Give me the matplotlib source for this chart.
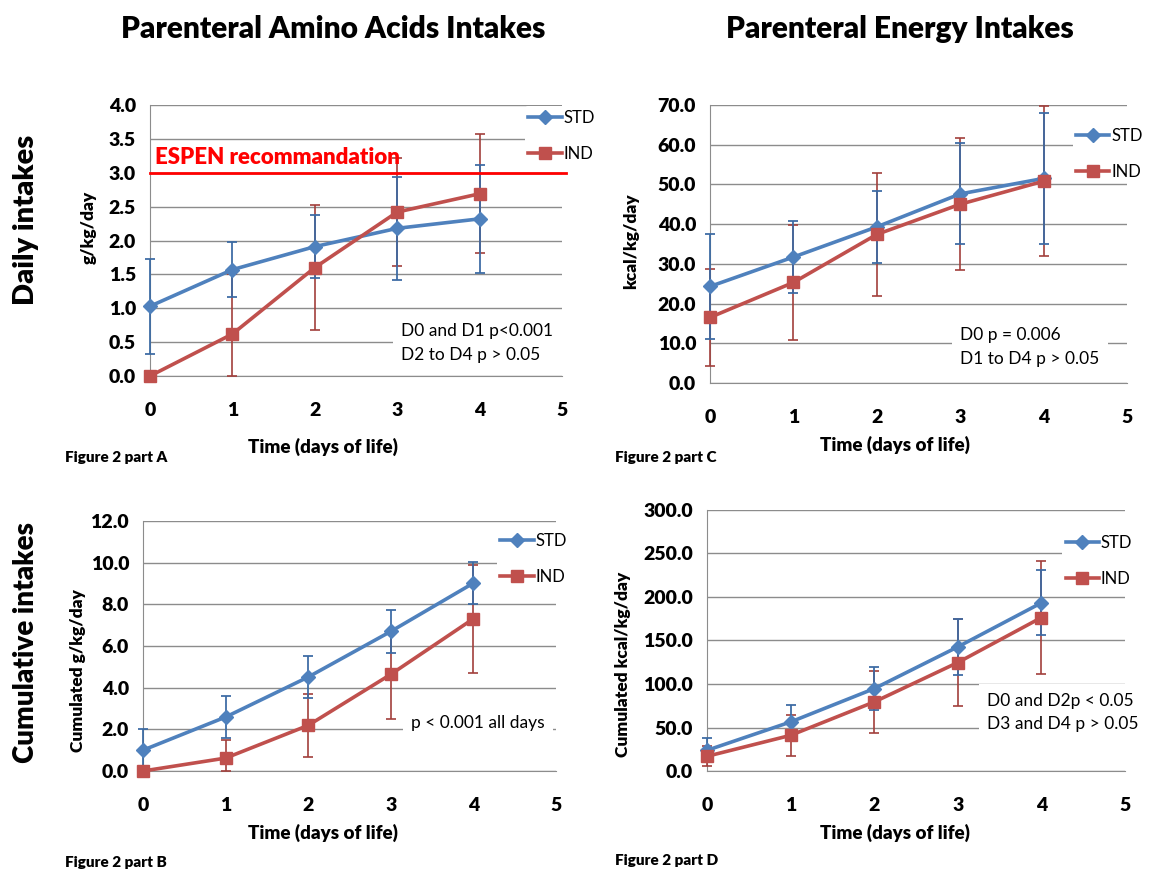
import matplotlib
matplotlib.use("Agg")
import matplotlib.pyplot as plt
import numpy as np

plt.rcParams['font.family'] = ['Lato', 'DejaVu Sans']

days = [0, 1, 2, 3, 4]

# Figure 2 part A - daily amino acids (g/kg/day)
aa_std = [1.03, 1.57, 1.91, 2.18, 2.32]
aa_std_err = [0.70, 0.41, 0.46, 0.76, 0.80]
aa_ind = [0.0, 0.62, 1.60, 2.42, 2.69]
aa_ind_err = [0.0, 0.88, 0.92, 0.80, 0.88]

# Figure 2 part C - daily energy (kcal/kg/day)
en_std = [24.3, 31.7, 39.3, 47.6, 51.5]
en_std_err = [13.2, 9.0, 9.0, 12.7, 16.4]
en_ind = [16.5, 25.3, 37.4, 45.0, 50.8]
en_ind_err = [12.1, 14.4, 15.4, 16.6, 18.9]

# Figure 2 part B - cumulated amino acids
caa_std = [1.0, 2.59, 4.51, 6.70, 9.02]
caa_std_err = [1.0, 1.0, 1.02, 1.04, 1.02]
caa_ind = [0.0, 0.62, 2.19, 4.64, 7.31]
caa_ind_err = [0.0, 0.88, 1.52, 2.13, 2.60]

# Figure 2 part D - cumulated energy
cen_std = [23.8, 56.4, 94.7, 142.7, 193.3]
cen_std_err = [14.0, 20.0, 25.0, 32.0, 37.5]
cen_ind = [16.9, 41.0, 79.4, 124.7, 176.4]
cen_ind_err = [11.5, 23.5, 35.5, 49.5, 64.7]

BLUE = '#4F81BD'
RED = '#C0504D'
BLUE_ERR = '#3B6AA3'
RED_ERR = '#A23E3B'
GRID = '#8C8C8C'


def draw_errors(ax, vals, err, color, alpha):
    vals = np.array(vals)
    err = np.array(err)
    # bars stop at the x axis, like in the original
    lower = np.minimum(err, vals)
    eb = ax.errorbar(days, vals, yerr=[lower, err], fmt='none', ecolor=color,
                     elinewidth=1.4, capsize=3.5, capthick=1.4, alpha=alpha, zorder=3)
    for art in eb.lines[1] + eb.lines[2]:
        art.set_clip_on(False)


def draw_panel(ax, std, std_err, ind, ind_err, ymax, ystep, ylabel, ylab_xy,
               xlab_xy, leg_xy, note, note_xy):
    ax.set_xlim(0, 5)
    ax.set_ylim(0, ymax)
    draw_errors(ax, ind, ind_err, RED_ERR, 0.85)
    draw_errors(ax, std, std_err, BLUE_ERR, 0.9)
    ax.plot(days, std, color=BLUE, lw=2.6, marker='D', ms=7, label='STD',
            clip_on=False, zorder=4)
    ax.plot(days, ind, color=RED, lw=2.6, marker='s', ms=8, label='IND',
            clip_on=False, zorder=4)

    yt = np.arange(0, ymax + ystep / 2, ystep)
    ax.set_yticks(yt)
    ax.set_yticklabels(['{:.1f}'.format(v) for v in yt], fontsize=14, fontweight='heavy')
    ax.set_xticks(range(6))
    ax.set_xticklabels([str(i) for i in range(6)], fontsize=14, fontweight='heavy')
    ax.tick_params(axis='both', length=0)
    ax.tick_params(axis='x', pad=19)
    ax.tick_params(axis='y', pad=10)
    ax.yaxis.grid(True, color=GRID, lw=1)
    ax.set_axisbelow(True)
    for s in ['top', 'right']:
        ax.spines[s].set_visible(False)
    ax.spines['left'].set_color(GRID)
    ax.spines['bottom'].set_color(GRID)

    ax.set_xlabel('Time (days of life)', fontsize=13.5, fontweight='heavy', va='center')
    ax.xaxis.set_label_coords(*xlab_xy)
    ax.set_ylabel(ylabel, fontsize=12.5, fontweight='heavy', va='center')
    ax.yaxis.set_label_coords(*ylab_xy)

    leg = ax.legend(loc='upper left', bbox_to_anchor=leg_xy, fontsize=12,
                    frameon=True, facecolor='white', edgecolor='none', framealpha=1,
                    handlelength=2.0, handletextpad=0.1, labelspacing=1.2,
                    borderpad=0.2, borderaxespad=0)
    leg.set_zorder(5)

    ax.text(note_xy[0], note_xy[1], note, transform=ax.transAxes, fontsize=12.5,
            va='top', ha='left', linespacing=1.6, zorder=5,
            bbox=dict(facecolor='white', edgecolor='none', pad=6))


fig = plt.figure(figsize=(11.7, 8.71), dpi=100)

axA = fig.add_axes([0.1282, 0.5683, 0.3521, 0.3111])
axC = fig.add_axes([0.6068, 0.5603, 0.3564, 0.3192])
axB = fig.add_axes([0.1222, 0.1148, 0.3530, 0.2870])
axD = fig.add_axes([0.6043, 0.1148, 0.3573, 0.2997])

draw_panel(axA, aa_std, aa_std_err, aa_ind, aa_ind_err, 4.0, 0.5,
           'g/kg/day', (-0.15, 0.55), (0.42, -0.262), (0.91, 0.995),
           'D0 and D1 p<0.001\nD2 to D4 p > 0.05', (0.61, 0.195))
draw_panel(axC, en_std, en_std_err, en_ind, en_ind_err, 70.0, 10.0,
           'kcal/kg/day', (-0.19, 0.51), (0.444, -0.223), (0.87, 0.93),
           'D0 p = 0.006\nD1 to D4 p > 0.05', (0.6, 0.2))
draw_panel(axB, caa_std, caa_std_err, caa_ind, caa_ind_err, 12.0, 2.0,
           'Cumulated g/kg/day', (-0.157, 0.40), (0.436, -0.248), (0.857, 0.966),
           'p < 0.001 all days', (0.65, 0.225))
draw_panel(axD, cen_std, cen_std_err, cen_ind, cen_ind_err, 300.0, 50.0,
           'Cumulated kcal/kg/day', (-0.2, 0.41), (0.45, -0.238), (0.85, 0.918),
           'D0 and D2p < 0.05\nD3 and D4 p > 0.05', (0.67, 0.3))

# ESPEN recommendation line on part A
axA.axhline(3.0, xmin=0, xmax=1.01, color='#FF0000', lw=2, clip_on=False, zorder=6)
axA.text(0.06, 3.22, 'ESPEN recommandation', color='#FF0000', fontsize=16,
         fontweight='heavy', va='center', ha='left', zorder=6)

fig.text(333 / 1170, 1 - 29 / 871, 'Parenteral Amino Acids Intakes', fontsize=21.5,
         fontweight='heavy', ha='center', va='center')
fig.text(900 / 1170, 1 - 29 / 871, 'Parenteral Energy Intakes', fontsize=21.5,
         fontweight='heavy', ha='center', va='center')
fig.text(26 / 1170, 1 - 220 / 871, 'Daily intakes', fontsize=21, fontweight='heavy',
         rotation=90, ha='center', va='center')
fig.text(26 / 1170, 1 - 642 / 871, 'Cumulative intakes', fontsize=20,
         fontweight='heavy', rotation=90, ha='center', va='center')

for label, x, y in [('Figure 2 part A', 65, 457), ('Figure 2 part C', 615, 457),
                    ('Figure 2 part B', 65, 862), ('Figure 2 part D', 615, 860)]:
    fig.text(x / 1170, 1 - y / 871, label, fontsize=11, fontweight='heavy',
             ha='left', va='center')

fig.savefig('out.png', dpi=100)
